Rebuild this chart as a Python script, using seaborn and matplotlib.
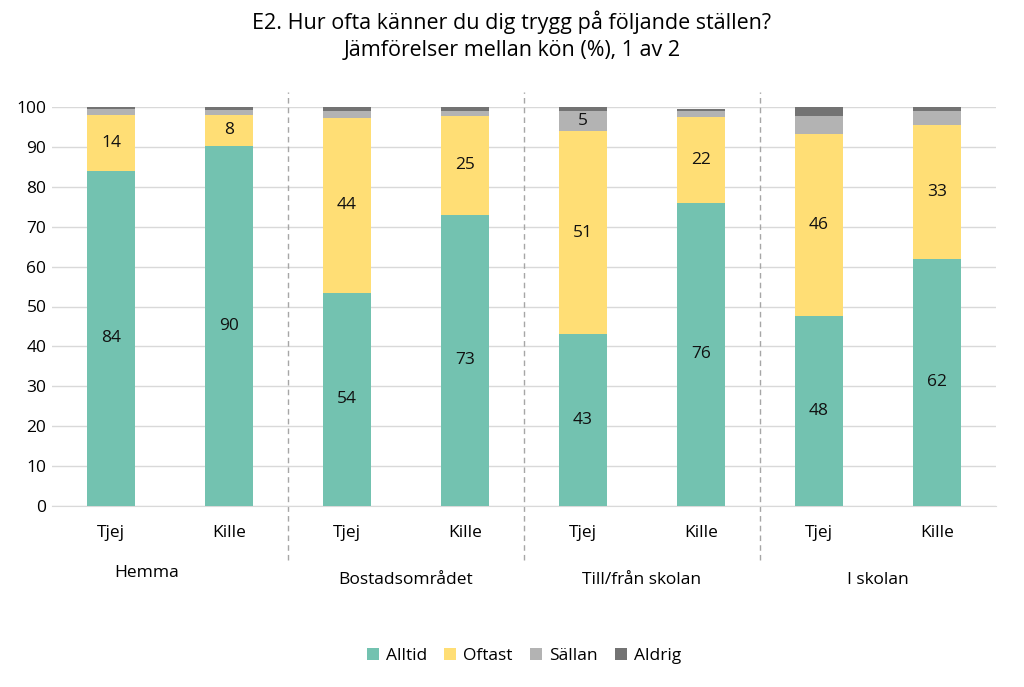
import matplotlib
matplotlib.use("Agg")
import matplotlib.pyplot as plt
import seaborn as sns
import pandas as pd
import numpy as np

plt.rcParams["font.family"] = "Open Sans"

groups = ["Hemma", "Bostadsområdet", "Till/från skolan", "I skolan"]
genders = ["Tjej", "Kille"]
alltid = [84, 90.3, 53.5, 73, 43, 76, 47.5, 62]
oftast = [14, 7.7, 43.8, 24.7, 51, 21.5, 45.8, 33.4]
sallan = [1.5, 1.2, 1.7, 1.3, 5.0, 1.5, 4.4, 3.6]
aldrig = [0.5, 0.8, 1.0, 1.0, 1.0, 0.5, 2.3, 1.0]
series = {"Alltid": alltid, "Oftast": oftast, "Sällan": sallan, "Aldrig": aldrig}
colors = {"Alltid": "#73C2B0", "Oftast": "#FFDE75", "Sällan": "#B3B3B3", "Aldrig": "#737373"}

cats = [f"{g}|{s}" for g in groups for s in genders]
fig = plt.figure(figsize=(10.24, 6.87), dpi=100)
ax = fig.add_axes([52/1024, 1-506/687, 944/1024, 399/687])

bottom = np.zeros(len(cats))
for name, vals in series.items():
    df = pd.DataFrame({"cat": cats, "v": vals})
    sns.barplot(data=df, x="cat", y="v", order=cats, color=colors[name], width=0.41,
                bottom=bottom, ax=ax, label=name, saturation=1, zorder=3)
    for i, v in enumerate(vals):
        if v >= 4.5:
            ax.text(i, bottom[i] + v/2, f"{round(v)}", ha="center", va="center", fontsize=12.5, color="#111111", zorder=4)
    bottom = bottom + np.array(vals)

ax.set_xlim(-0.5, 7.5)
ax.set_ylim(0, 100)
ax.set_yticks(range(0, 101, 10))
ax.yaxis.grid(True, color="#d9d9d9", lw=1, zorder=0)
ax.set_xticks(range(8))
ax.set_xticklabels([s for g in groups for s in genders], fontsize=12.5)
ax.tick_params(axis="x", length=0, pad=14)
ax.tick_params(axis="y", length=0, labelsize=12.5, pad=4)
for sp in ["top", "right", "left"]:
    ax.spines[sp].set_visible(False)
ax.spines["bottom"].set_color("#d9d9d9")
ax.set_xlabel(""); ax.set_ylabel("")

for i, g in enumerate(groups):
    ax.text(2*i + 0.5 - 0.2*(i == 0), -16.7 - (1.8 if i > 0 else 0), g, ha="center", va="center", fontsize=12.5, transform=ax.transData, clip_on=False)
for xb in [1.5, 3.5, 5.5]:
    ax.plot([xb, xb], [-13.6, 103.8], ls=(0, (4, 3)), color="#a6a6a6", lw=1, clip_on=False)

fig.suptitle("E2. Hur ofta känner du dig trygg på följande ställen?\nJämförelser mellan kön (%), 1 av 2",
             y=0.985, fontsize=15.5, linespacing=1.4)
ax.legend(loc="center", bbox_to_anchor=(0.5, -0.375), ncol=4, frameon=False, fontsize=12.5,
          handlelength=0.7, handleheight=0.7, columnspacing=1.0, handletextpad=0.4)
fig.savefig("out.png", dpi=100)
